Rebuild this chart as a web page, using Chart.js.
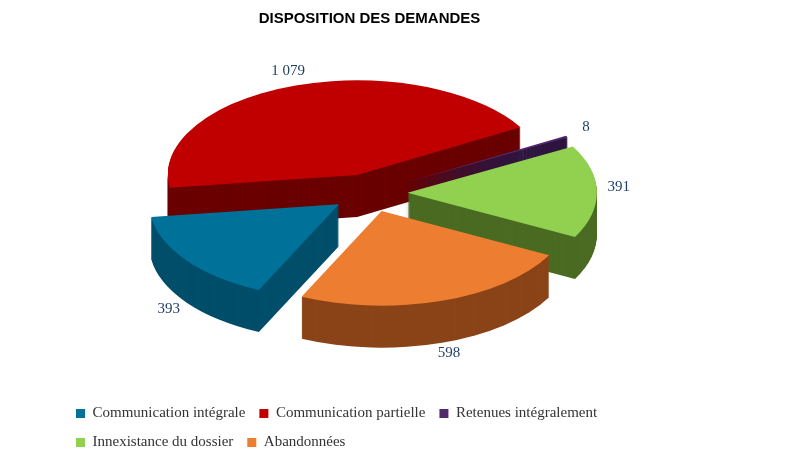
<!DOCTYPE html>
<html>
<head>
<meta charset="utf-8">
<script src="https://cdn.jsdelivr.net/npm/chart.js@4"></script>
<style>
  body { margin: 0; background: #fff; }
  #wrap { width: 787px; height: 472px; }
</style>
</head>
<body>
<div id="wrap"><canvas id="myChart" width="787" height="472"></canvas></div>
<script>
const labels = ["Communication intégrale", "Communication partielle", "Retenues intégralement", "Innexistance du dossier", "Abandonnées"];
const values = [393, 1079, 8, 391, 598];
const colors = ["#00729a", "#c00000", "#512a6b", "#92d050", "#ed7d31"];
const sideColors = ["#004e6a", "#6a0000", "#2e1540", "#4a6b22", "#8a4418"];

const fmt = (v) => String(v).replace(/\B(?=(\d{3})+(?!\d))/g, " ");

// flattened 3D pie drawn from the arc elements
const pie3d = {
  id: "pie3d",
  beforeDatasetsDraw(chart) {
    const ctx = chart.ctx;
    const arcs = chart.getDatasetMeta(0).data;
    const k = 0.5, depth = 42, explode = 38, dy = -22;
    const items = arcs.map((a, i) => {
      const mid = (a.startAngle + a.endAngle) / 2;
      return { a, i, mid };
    }).sort((p, q) => Math.sin(p.mid) - Math.sin(q.mid));
    items.forEach(({ a, i, mid }) => {
      const R = a.outerRadius * 1.07;
      const cx = a.x + Math.cos(mid) * explode;
      const cy = a.y + dy + Math.sin(mid) * explode * k;
      for (let d = depth; d >= 0; d--) {
        ctx.save();
        ctx.translate(cx, cy + d);
        ctx.scale(1, k);
        ctx.beginPath();
        ctx.moveTo(0, 0);
        ctx.arc(0, 0, R, a.startAngle, a.endAngle);
        ctx.closePath();
        ctx.fillStyle = d === 0 ? colors[i] : sideColors[i];
        ctx.fill();
        ctx.restore();
      }
    });
    // value labels
    ctx.save();
    ctx.font = "15px 'Liberation Serif'";
    ctx.fillStyle = "#1f3f66";
    ctx.textAlign = "center";
    ctx.textBaseline = "middle";
    arcs.forEach((a, i) => {
      const mid = (a.startAngle + a.endAngle) / 2;
      const R = a.outerRadius * 1.07 + explode + 22;
      const x = a.x + Math.cos(mid) * R;
      const y = a.y + dy + Math.sin(mid) * R * k + (Math.sin(mid) > 0 ? depth : -4);
      ctx.fillText(fmt(values[i]), x, y);
    });
    ctx.restore();
    return false;
  }
};

new Chart(document.getElementById("myChart"), {
  type: "pie",
  data: {
    labels: labels,
    datasets: [{ data: values, backgroundColor: colors, borderWidth: 0 }]
  },
  options: {
    responsive: false,
    animation: false,
    rotation: 205,
    layout: { padding: { left: 62, right: 110, top: 0, bottom: 12 } },
    plugins: {
      tooltip: { enabled: false },
      title: {
        display: true,
        text: "DISPOSITION DES DEMANDES",
        color: "#000",
        font: { family: "'Liberation Sans'", size: 15, weight: "bold" },
        padding: { top: 10, bottom: 10 }
      },
      legend: {
        position: "bottom",
        align: "start",
        labels: {
          boxWidth: 9,
          boxHeight: 9,
          padding: 14,
          color: "#333",
          font: { family: "'Liberation Serif'", size: 15 }
        }
      }
    }
  },
  plugins: [pie3d]
});
</script>
</body>
</html>
